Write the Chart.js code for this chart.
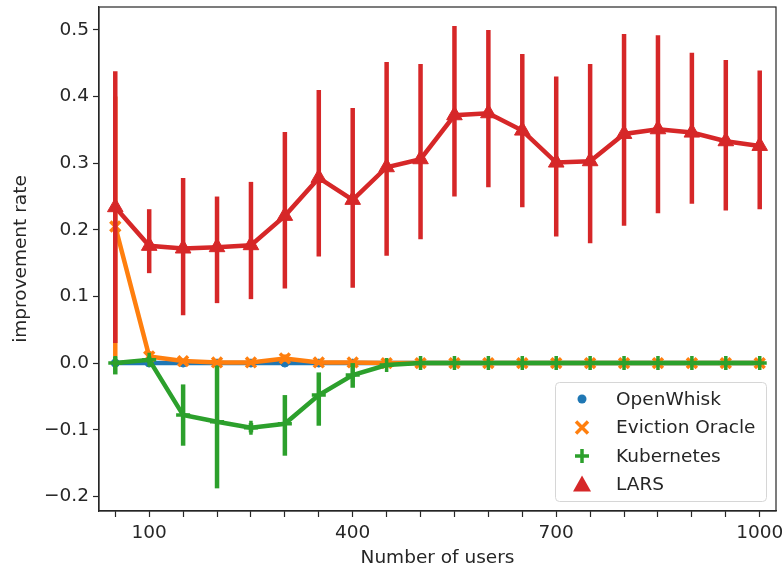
<!DOCTYPE html>
<html>
<head>
<meta charset="utf-8">
<script src="https://cdn.jsdelivr.net/npm/chart.js@4.4.1/dist/chart.umd.min.js"></script>
<style>
  html, body { margin: 0; padding: 0; background: #fff; }
  #wrap { position: relative; width: 782px; height: 572px; }
</style>
</head>
<body>
<div id="wrap"><canvas id="chartImprove" width="782" height="572"></canvas></div>
<script>
// number of users (categorical x)
const USERS = [50, 100, 150, 200, 250, 300, 350, 400, 450, 500, 550, 600, 650, 700, 750, 800, 850, 900, 950, 1000];
const X_TICK_LABELS = ['100', '400', '700', '1000'];
const Y_TICKS = [-0.2, -0.1, 0.0, 0.1, 0.2, 0.3, 0.4, 0.5];

const openwhiskMean = [0, 0, 0, 0, 0, 0, 0, 0, 0, 0, 0, 0, 0, 0, 0, 0, 0, 0, 0, 0];
const openwhiskLow  = [0, 0, 0, 0, 0, 0, 0, 0, 0, 0, 0, 0, 0, 0, 0, 0, 0, 0, 0, 0];
const openwhiskHigh = [0, 0, 0, 0, 0, 0, 0, 0, 0, 0, 0, 0, 0, 0, 0, 0, 0, 0, 0, 0];

const evictionMean = [0.205, 0.010, 0.003, 0.001, 0.001, 0.007, 0.001, 0.001, 0, 0, 0, 0, 0, 0, 0, 0, 0, 0, 0, 0];
const evictionLow  = [0.010, 0.004, 0.000, 0.000, 0.000, 0.002, 0.000, 0.000, 0, 0, 0, 0, 0, 0, 0, 0, 0, 0, 0, 0];
const evictionHigh = [0.400, 0.018, 0.006, 0.003, 0.003, 0.013, 0.003, 0.002, 0, 0, 0, 0, 0, 0, 0, 0, 0, 0, 0, 0];

const kubeMean = [0.000, 0.005, -0.078, -0.088, -0.097, -0.091, -0.048, -0.018, -0.003, 0, 0, 0, 0, 0, 0, 0, 0, 0, 0, 0];
const kubeLow  = [-0.017, 0.000, -0.124, -0.188, -0.104, -0.139, -0.094, -0.037, -0.006, 0, 0, 0, 0, 0, 0, 0, 0, 0, 0, 0];
const kubeHigh = [0.010, 0.010, -0.032, -0.004, -0.090, -0.048, -0.014, 0.000, 0.000, 0, 0, 0, 0, 0, 0, 0, 0, 0, 0, 0];

const larsMean = [0.234, 0.176, 0.172, 0.174, 0.177, 0.221, 0.278, 0.245, 0.294, 0.306, 0.372, 0.375, 0.349, 0.301, 0.303, 0.344, 0.351, 0.346, 0.333, 0.326];
const larsLow  = [0.030, 0.135, 0.072, 0.090, 0.096, 0.112, 0.160, 0.113, 0.161, 0.186, 0.250, 0.264, 0.234, 0.190, 0.180, 0.206, 0.225, 0.239, 0.229, 0.231];
const larsHigh = [0.438, 0.231, 0.278, 0.250, 0.272, 0.347, 0.410, 0.383, 0.452, 0.449, 0.506, 0.500, 0.464, 0.430, 0.449, 0.494, 0.492, 0.466, 0.455, 0.439];

const FONT = "'DejaVu Sans', sans-serif";
const FSIZE = 18.5;
const INK = '#262626';
// plot frame edges in the 782x572 picture
const AREA_TOP = 7, AREA_RIGHT = 776;

const toPoints = (vals) => vals.map((v, i) => ({ x: i, y: v }));

const SERIES = [
  { label: 'OpenWhisk',       color: '#1f77b4', mean: openwhiskMean, low: openwhiskLow, high: openwhiskHigh, style: 'circle',   radius: 4, pbw: 1,   order: 3 },
  { label: 'Eviction Oracle', color: '#ff7f0e', mean: evictionMean,  low: evictionLow,  high: evictionHigh,  style: 'crossRot', radius: 7, pbw: 3.5, order: 2 },
  { label: 'Kubernetes',      color: '#2ca02c', mean: kubeMean,      low: kubeLow,      high: kubeHigh,      style: 'cross',    radius: 7, pbw: 3.5, order: 1 },
  { label: 'LARS',            color: '#d62728', mean: larsMean,      low: larsLow,      high: larsHigh,      style: 'triangle', radius: 9, pbw: 1,   order: 0 }
];

// chart.js reserves room for half tick labels; pin the frame like matplotlib does
const pinArea = {
  id: 'pinArea',
  afterLayout(chart) {
    const a = chart.chartArea;
    const { x, y } = chart.scales;
    a.top = AREA_TOP; a.right = AREA_RIGHT;
    a.width = a.right - a.left; a.height = a.bottom - a.top;
    y.top = AREA_TOP; y.height = y.bottom - y.top;
    x.right = AREA_RIGHT; x.width = x.right - x.left;
    y.configure(); x.configure();
  }
};

// error bars drawn just before each dataset's own line, like seaborn does
const errorBars = {
  id: 'errorBars',
  beforeDatasetDraw(chart, args) {
    const s = SERIES[args.index];
    const { ctx, scales: { x, y } } = chart;
    ctx.save();
    ctx.strokeStyle = s.color;
    ctx.lineWidth = 4.5;
    ctx.lineCap = 'butt';
    s.low.forEach((lo, i) => {
      const hi = s.high[i];
      if (hi - lo <= 0) return;
      const px = x.getPixelForValue(i);
      ctx.beginPath();
      ctx.moveTo(px, y.getPixelForValue(lo));
      ctx.lineTo(px, y.getPixelForValue(hi));
      ctx.stroke();
    });
    ctx.restore();
  }
};

// full box frame + legend inside lower right corner
const frameAndLegend = {
  id: 'frameAndLegend',
  afterDraw(chart) {
    const { ctx, chartArea: a } = chart;
    ctx.save();
    ctx.strokeStyle = INK;
    ctx.lineWidth = 1.2;
    ctx.strokeRect(a.left, a.top, a.right - a.left, a.bottom - a.top);

    const w = 211, h = 119;
    const bx = a.right - 10 - w, by = a.bottom - 10 - h;
    ctx.fillStyle = 'rgba(255,255,255,0.85)';
    ctx.strokeStyle = '#d6d6d6';
    ctx.lineWidth = 1;
    ctx.beginPath();
    ctx.roundRect(bx + 0.5, by + 0.5, w, h, 4);
    ctx.fill();
    ctx.stroke();

    ctx.font = FSIZE + 'px ' + FONT;
    ctx.textBaseline = 'middle';
    SERIES.forEach((s, i) => {
      const cy = by + 17 + i * 28.5;
      const cx = bx + 27;
      ctx.fillStyle = s.color;
      ctx.strokeStyle = s.color;
      if (s.style === 'circle') {
        ctx.beginPath(); ctx.arc(cx, cy, 4.5, 0, Math.PI * 2); ctx.fill();
      } else if (s.style === 'crossRot') {
        ctx.lineWidth = 3.5;
        ctx.beginPath();
        ctx.moveTo(cx - 6, cy - 6); ctx.lineTo(cx + 6, cy + 6);
        ctx.moveTo(cx + 6, cy - 6); ctx.lineTo(cx - 6, cy + 6);
        ctx.stroke();
      } else if (s.style === 'cross') {
        ctx.lineWidth = 3.5;
        ctx.beginPath();
        ctx.moveTo(cx - 7, cy); ctx.lineTo(cx + 7, cy);
        ctx.moveTo(cx, cy - 7); ctx.lineTo(cx, cy + 7);
        ctx.stroke();
      } else {
        ctx.beginPath();
        ctx.moveTo(cx, cy - 9); ctx.lineTo(cx + 9, cy + 7); ctx.lineTo(cx - 9, cy + 7);
        ctx.closePath(); ctx.fill();
      }
      ctx.fillStyle = INK;
      ctx.fillText(s.label, bx + 61, cy + 1);
    });
    ctx.restore();
  }
};

const datasets = SERIES.map(s => ({
  label: s.label,
  data: toPoints(s.mean),
  borderColor: s.color,
  backgroundColor: s.color,
  borderWidth: 4.5,
  pointStyle: s.style,
  pointRadius: s.radius,
  pointBorderWidth: s.pbw,
  pointBackgroundColor: s.color,
  pointBorderColor: s.color,
  tension: 0,
  order: s.order
}));

new Chart(document.getElementById('chartImprove'), {
  type: 'line',
  data: { datasets: datasets },
  options: {
    responsive: false,
    animation: false,
    events: [],
    layout: { padding: { top: 7, right: 6, left: 0, bottom: 0 } },
    plugins: { legend: { display: false }, tooltip: { enabled: false } },
    scales: {
      x: {
        type: 'linear',
        min: -0.48, max: 19.48,
        afterBuildTicks: (sc) => { sc.ticks = USERS.map((u, i) => ({ value: i })); },
        afterFit: (sc) => { sc.height = 61; },
        ticks: {
          autoSkip: false, maxRotation: 0, padding: 5,
          color: INK, font: { family: FONT, size: FSIZE },
          callback: (v) => X_TICK_LABELS.includes(String(USERS[v])) ? String(USERS[v]) : ''
        },
        grid: { drawOnChartArea: false, tickLength: 6, color: INK, tickWidth: 1.2 },
        border: { color: INK, width: 1.2 },
        title: { display: true, text: 'Number of users', color: INK, font: { family: FONT, size: FSIZE }, padding: { top: 0, bottom: 3 } }
      },
      y: {
        min: -0.222, max: 0.5345,
        afterBuildTicks: (sc) => { sc.ticks = Y_TICKS.map(v => ({ value: v })); },
        afterFit: (sc) => { sc.width = 99; },
        ticks: {
          padding: 4, color: INK, font: { family: FONT, size: FSIZE },
          callback: (v) => (Math.abs(v) < 1e-9 ? 0 : v).toFixed(1).replace('-', '\u2212')
        },
        grid: { drawOnChartArea: false, tickLength: 6, color: INK, tickWidth: 1.2 },
        border: { color: INK, width: 1.2 },
        title: { display: true, text: 'improvement rate', color: INK, font: { family: FONT, size: FSIZE }, padding: { top: 10, bottom: 0 } }
      }
    }
  },
  plugins: [pinArea, errorBars, frameAndLegend]
});
</script>
</body>
</html>
